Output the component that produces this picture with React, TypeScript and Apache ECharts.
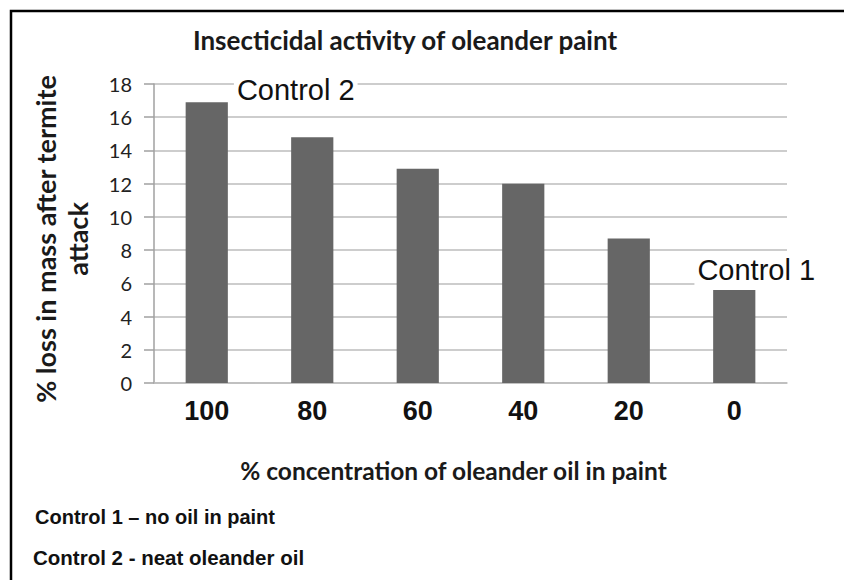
import React, { useEffect, useRef } from "react";
import * as echarts from "echarts";

const categories = ["100", "80", "60", "40", "20", "0"];
const lossValues = [16.9, 14.8, 12.9, 12.0, 8.7, 5.6];
const annotationLabels = ["Control 2", "", "", "", "", "Control 1"];
const yMin = 0;
const yMax = 18;
const yInterval = 2;
const titleText = "Insecticidal activity of oleander paint";
const xAxisName = "% concentration of oleander oil in paint";
const yAxisName = "% loss in mass after termite\nattack";
const footnotes = ["Control 1 \u2013 no oil in paint", "Control 2 - neat oleander oil"];

export default function App() {
  const ref = useRef<HTMLDivElement>(null);
  useEffect(() => {
    if (!ref.current) return;
    const chart = echarts.init(ref.current, undefined, { renderer: "svg" });
    const gridColor = "#bcbcbc";
    const option: any = {
      animation: false,
      backgroundColor: "#ffffff",
      title: {
        text: titleText,
        left: 400,
        top: 22,
        textAlign: "center",
        textStyle: { fontFamily: "Lato", fontWeight: "bold", fontSize: 26, color: "#1a1a1a" },
      },
      grid: { left: 154, right: 57, top: 84, bottom: 197, containLabel: false },
      xAxis: {
        type: "category",
        data: categories,
        axisTick: { show: false },
        axisLine: { show: true, lineStyle: { color: gridColor, width: 1.5 } },
        axisLabel: {
          margin: 14,
          fontFamily: "Liberation Sans",
          fontWeight: "bold",
          fontSize: 27,
          color: "#111",
        },
        name: xAxisName,
        nameLocation: "middle",
        nameGap: 75,
        nameTextStyle: {
          fontFamily: "Lato",
          fontWeight: "bold",
          fontSize: 24.5,
          color: "#1a1a1a",
          padding: [0, 34, 0, 0],
        },
      },
      yAxis: {
        type: "value",
        min: yMin,
        max: yMax,
        interval: yInterval,
        axisLine: { show: true, lineStyle: { color: "#a0a0a0", width: 1.5 } },
        axisTick: { show: true, length: 10, lineStyle: { color: "#a0a0a0", width: 1.5 } },
        splitLine: { show: true, lineStyle: { color: gridColor, width: 1.5 } },
        axisLabel: {
          margin: 22,
          fontFamily: "Lato",
          fontSize: 20,
          color: "#222",
        },
        name: yAxisName,
        nameLocation: "middle",
        nameRotate: 90,
        nameGap: 61,
        nameTextStyle: {
          fontFamily: "Lato",
          fontWeight: "bold",
          fontSize: 27,
          lineHeight: 32,
          color: "#1a1a1a",
          padding: [0, 11, 0, 0],
        },
      },
      series: [
        {
          type: "bar",
          barWidth: "40%",
          itemStyle: { color: "#666666" },
          data: lossValues.map((v, i) => ({
            value: v,
            label: annotationLabels[i]
              ? {
                  show: true,
                  formatter: annotationLabels[i],
                  position: "top",
                  distance: 2,
                  offset: i === 0 ? [89, 4] : [22, -3],
                  fontFamily: "Liberation Sans",
                  fontSize: 29,
                  color: "#111",
                  backgroundColor: "#ffffff",
                  padding: [0, 3],
                }
              : { show: false },
          })),
        },
      ],
      graphic: [
        {
          type: "polyline",
          shape: { points: [[11, 580], [11, 11], [844, 11]] },
          style: { stroke: "#000", lineWidth: 2.5, fill: "none" },
          silent: true,
        },
        {
          type: "text",
          left: 35,
          top: 507,
          style: {
            text: footnotes[0],
            fontFamily: "Liberation Sans",
            fontWeight: "bold",
            fontSize: 20,
            fill: "#111",
          },
        },
        {
          type: "text",
          left: 33,
          top: 547,
          style: {
            text: footnotes[1],
            fontFamily: "Liberation Sans",
            fontWeight: "bold",
            fontSize: 20.5,
            fill: "#111",
          },
        },
      ],
    };
    chart.setOption(option);
    return () => chart.dispose();
  }, []);
  return (
    <div
      ref={ref}
      style={{ position: "fixed", left: 0, top: 0, width: 844, height: 580, background: "#fff" }}
    />
  );
}
